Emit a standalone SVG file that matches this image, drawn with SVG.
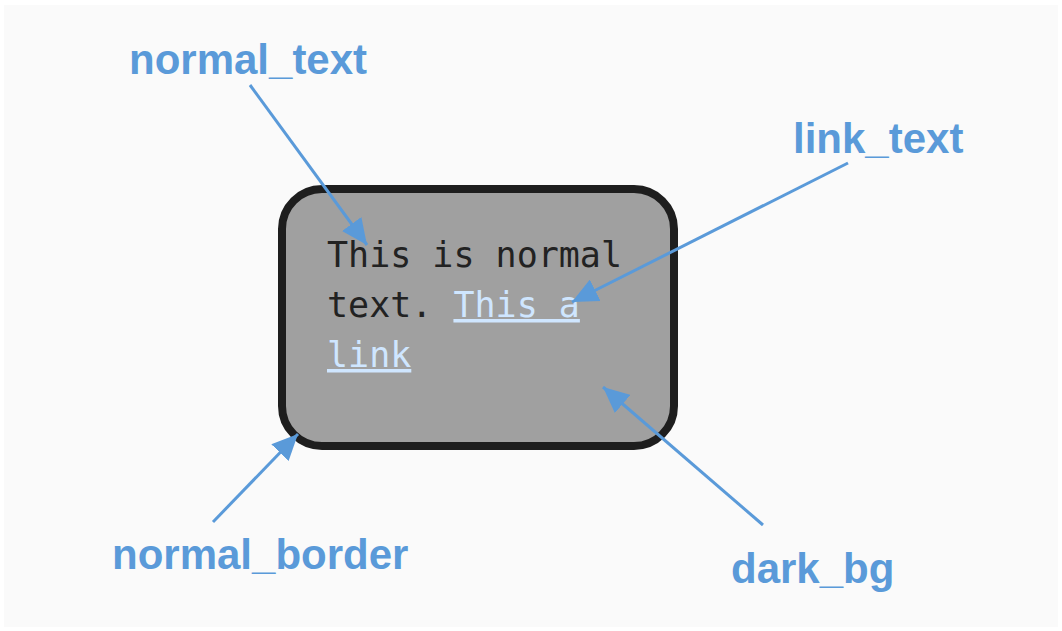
<svg xmlns="http://www.w3.org/2000/svg" width="1062" height="631" viewBox="0 0 1062 631">
<style>
.lbl{font-family:"Liberation Sans",Arial,sans-serif;font-weight:bold;font-size:42px;fill:#5a9ad9}
.mono{font-family:"DejaVu Sans Mono",monospace;font-size:35px;fill:#222}
.link{fill:#cfe6ff;text-decoration:underline}
.conn{stroke:#5a9ad9;stroke-width:3;fill:none;marker-end:url(#ah)}
</style>
<defs>
<marker id="ah" markerUnits="userSpaceOnUse" markerWidth="28" markerHeight="24" refX="26" refY="12" orient="auto">
<path d="M0,0 L26,12 L0,24 Z" fill="#5a9ad9"/>
</marker>
</defs>
<rect x="0" y="0" width="1062" height="631" fill="#ffffff"/>
<rect x="4" y="5" width="1054" height="622" fill="#fafafa"/>
<g id="box">
<rect x="282" y="189" width="392" height="257" rx="40" ry="40" fill="#a0a0a0" stroke="#1e1e1e" stroke-width="8"/>
<text class="mono" x="327" y="267">This is normal</text>
<text class="mono" x="327" y="317">text. <tspan class="link">This a</tspan></text>
<text class="mono link" x="327" y="367">link</text>
</g>
<g id="normal_text"><text class="lbl" x="129" y="74">normal_text</text></g>
<g id="link_text"><text class="lbl" x="793" y="153">link_text</text></g>
<g id="normal_border"><text class="lbl" x="112" y="569">normal_border</text></g>
<g id="dark_bg"><text class="lbl" x="731" y="583">dark_bg</text></g>
<g id="connectors">
<line class="conn" x1="250" y1="85" x2="367" y2="245"/>
<line class="conn" x1="848" y1="163" x2="572" y2="302"/>
<line class="conn" x1="763" y1="525" x2="603" y2="387"/>
<line class="conn" x1="213" y1="522" x2="298" y2="434"/>
</g>
</svg>
